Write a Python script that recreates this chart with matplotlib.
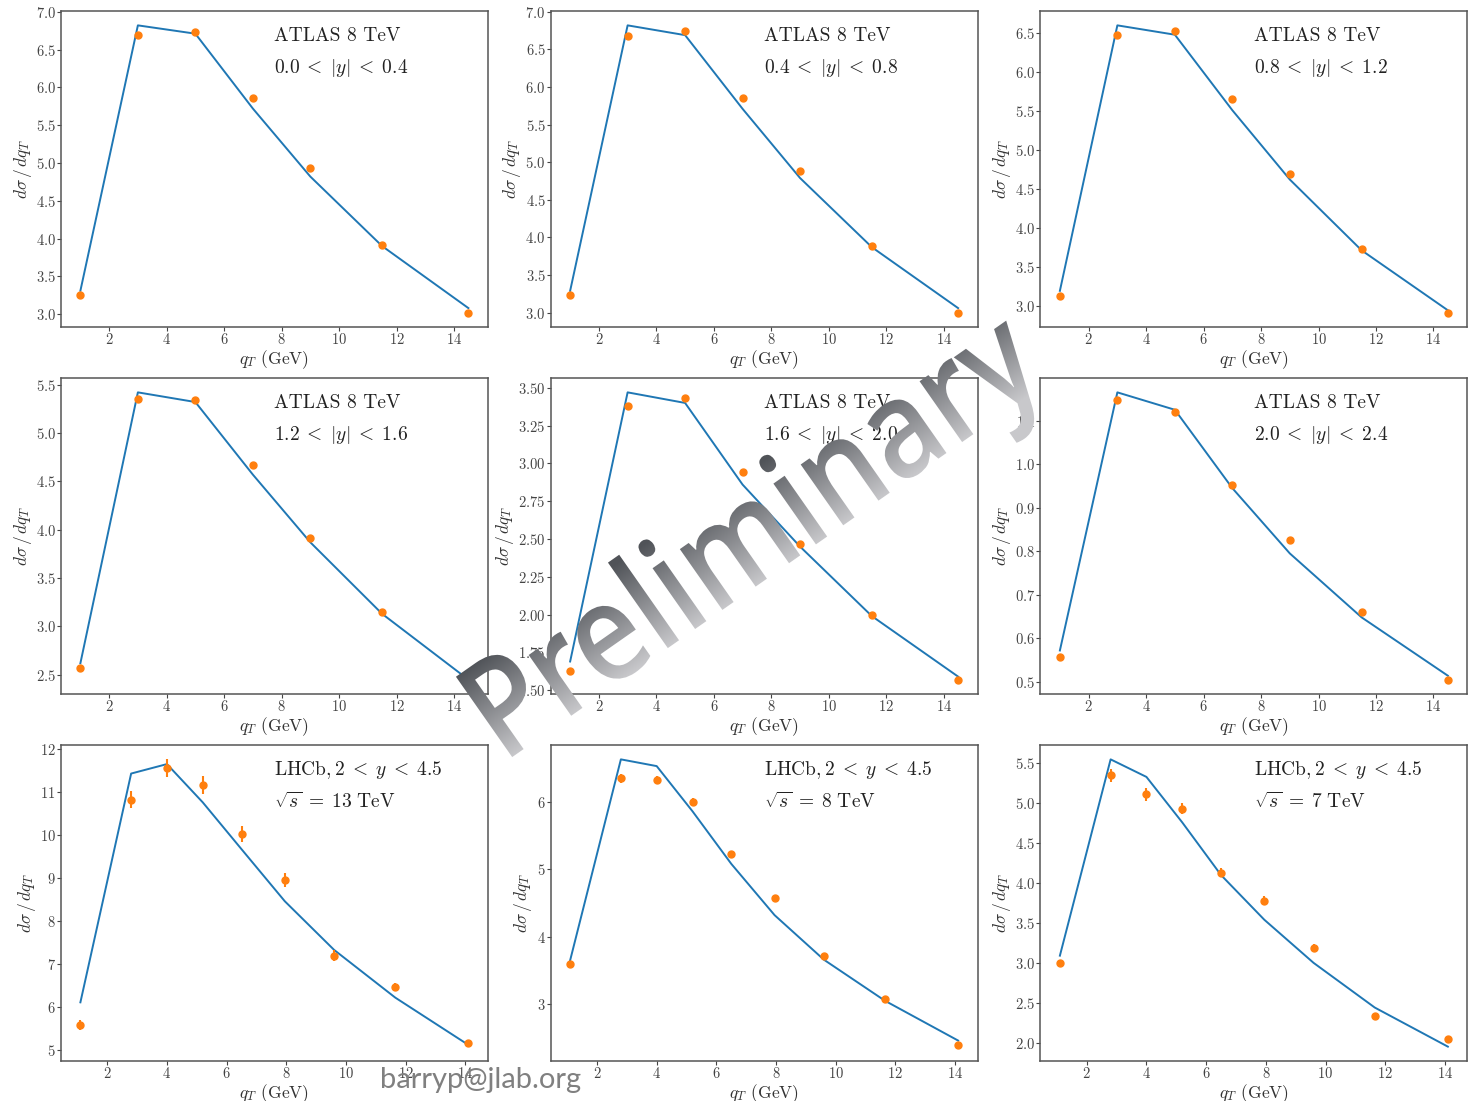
import numpy as np
import matplotlib
matplotlib.use("Agg")
import matplotlib.pyplot as plt
from matplotlib.textpath import TextPath
from matplotlib.font_manager import FontProperties
from matplotlib.patches import PathPatch
from matplotlib.transforms import Affine2D

plt.rcParams["mathtext.fontset"] = "cm"
plt.rcParams["font.family"] = ["cmr10", "DejaVu Serif"]
plt.rcParams["axes.formatter.use_mathtext"] = True
plt.rcParams["axes.unicode_minus"] = False

# ATLAS 8 TeV, bins in |y|
atlas_qt = [1, 3, 5, 7, 9, 11.5, 14.5]
atlas_labels = ["0.0 < |y| < 0.4", "0.4 < |y| < 0.8", "0.8 < |y| < 1.2",
                "1.2 < |y| < 1.6", "1.6 < |y| < 2.0", "2.0 < |y| < 2.4"]
atlas_data = [
    [3.25, 6.69, 6.73, 5.86, 4.93, 3.91, 3.02],
    [3.23, 6.68, 6.75, 5.86, 4.89, 3.89, 3.00],
    [3.13, 6.47, 6.53, 5.65, 4.69, 3.73, 2.91],
    [2.57, 5.35, 5.34, 4.67, 3.91, 3.15, 2.46],
    [1.63, 3.38, 3.43, 2.94, 2.47, 2.00, 1.57],
    [0.558, 1.148, 1.119, 0.952, 0.825, 0.660, 0.505],
]
atlas_theory = [
    [3.31, 6.82, 6.71, 5.72, 4.82, 3.90, 3.08],
    [3.29, 6.82, 6.69, 5.71, 4.79, 3.87, 3.06],
    [3.19, 6.60, 6.48, 5.51, 4.62, 3.71, 2.94],
    [2.62, 5.42, 5.32, 4.57, 3.87, 3.13, 2.45],
    [1.69, 3.47, 3.40, 2.86, 2.45, 1.99, 1.59],
    [0.572, 1.165, 1.125, 0.945, 0.795, 0.648, 0.514],
]

# LHCb, 2 < y < 4.5
lhcb_qt = [1.1, 2.8, 4.0, 5.2, 6.5, 7.95, 9.6, 11.65, 14.1]
lhcb_energy = ["13", "8", "7"]
lhcb_data = [
    [5.58, 10.82, 11.55, 11.16, 10.02, 8.96, 7.19, 6.47, 5.16],
    [3.60, 6.35, 6.32, 6.00, 5.23, 4.58, 3.72, 3.08, 2.39],
    [3.00, 5.35, 5.11, 4.93, 4.13, 3.78, 3.19, 2.34, 2.05],
]
lhcb_err = [
    [0.12, 0.20, 0.21, 0.21, 0.18, 0.16, 0.13, 0.10, 0.08],
    [0.03, 0.07, 0.06, 0.06, 0.04, 0.04, 0.03, 0.03, 0.02],
    [0.03, 0.08, 0.08, 0.07, 0.06, 0.06, 0.04, 0.02, 0.02],
]
lhcb_theory = [
    [6.11, 11.43, 11.65, 10.76, 9.67, 8.46, 7.33, 6.22, 5.12],
    [3.65, 6.63, 6.53, 5.86, 5.08, 4.32, 3.66, 3.05, 2.46],
    [3.09, 5.55, 5.33, 4.76, 4.10, 3.54, 3.00, 2.44, 1.95],
]

W, H = 1468, 1101
fig, axes = plt.subplots(3, 3, figsize=(W / 100, H / 100), dpi=100)
fig.subplots_adjust(left=61 / W, right=0.9995, bottom=1 - 1061 / H, top=1 - 11 / H,
                    wspace=63 / 427, hspace=51 / 316)

blue = "#1f77b4"
orange = "#ff7f0e"


def style(ax):
    for s in ax.spines.values():
        s.set_color("#555555")
        s.set_linewidth(1.1)
    ax.tick_params(labelsize=10.5, colors="#444444", length=3, pad=0.8)
    ax.set_xlabel(r"$q_T$ (GeV)", fontsize=12.5, color="#333333", labelpad=0.5)
    ax.set_ylabel(r"$d\sigma\,/\,dq_T$", fontsize=12.5, color="#333333", labelpad=1.5)


def rel(s):
    return s.replace("<", r"\;<\;")


for i in range(6):
    ax = axes[i // 3][i % 3]
    ax.plot(atlas_qt, atlas_theory[i], color=blue, lw=1.4)
    ax.plot(atlas_qt, atlas_data[i], "o", color=orange, ms=5)
    ax.text(0.5, 0.92, "ATLAS 8 TeV", transform=ax.transAxes, fontsize=14,
            va="center", color="#222222")
    ax.text(0.5, 0.82, "$" + rel(atlas_labels[i]) + "$", transform=ax.transAxes,
            fontsize=14, va="center", color="#222222")
    style(ax)

for i in range(3):
    ax = axes[2][i]
    ax.plot(lhcb_qt, lhcb_theory[i], color=blue, lw=1.4)
    ax.errorbar(lhcb_qt, lhcb_data[i], yerr=lhcb_err[i], fmt="o", color=orange,
                ms=5, elinewidth=1.5)
    ax.text(0.5, 0.92, r"$\rm LHCb, 2" + rel(r" < \it y \rm < ") + r"4.5$",
            transform=ax.transAxes, fontsize=14, va="center", color="#222222")
    ax.text(0.5, 0.82, r"$\sqrt{s} \;=\; " + lhcb_energy[i] + r"~\rm TeV$",
            transform=ax.transAxes, fontsize=14, va="center", color="#222222")
    style(ax)

# email stamp
fig.text(380 / W, 1 - 1088 / H, "barryp@jlab.org", fontsize=21, family="Lato",
         color="#808080", va="baseline", ha="left")

# "Preliminary" watermark with gray gradient
ov = fig.add_axes([0, 0, 1, 1], zorder=10)
ov.set_xlim(0, W)
ov.set_ylim(0, H)
ov.axis("off")
ov.patch.set_alpha(0)

tp = TextPath((0, 0), "Preliminary", size=100,
              prop=FontProperties(family="Open Sans", weight="semibold"))
ext = tp.get_extents()
sx = 655 / ext.width
sy = sx * 1.15
angle = 35
cx, cy = 760, H - 540
tr = (Affine2D().translate(-(ext.x0 + ext.width / 2), -(ext.y0 + ext.height / 2))
      .scale(sx, sy).rotate_deg(angle).translate(cx, cy))
path = tr.transform_path(tp)
patch = PathPatch(path, facecolor="none", edgecolor="none", transform=ov.transData)
ov.add_patch(patch)

gx, gy = np.meshgrid(np.arange(W) + 0.5, np.arange(H) + 0.5)
th = np.deg2rad(angle)
base_off = -(ext.y0 + ext.height / 2) * sy  # baseline offset from centre
v = -(gx - cx) * np.sin(th) + (gy - cy) * np.cos(th) - base_off
t = np.clip(v / (72 * sy), 0, 1)
dark = np.array([0x50, 0x53, 0x58]) / 255
light = np.array([0xc8, 0xc8, 0xcb]) / 255
img = light[None, None, :] * (1 - t[..., None]) + dark[None, None, :] * t[..., None]
im = ov.imshow(img, extent=[0, W, 0, H], origin="lower", aspect="auto", zorder=5)
im.set_clip_path(patch)
ov.set_xlim(0, W)
ov.set_ylim(0, H)

fig.savefig("out.png", dpi=100)
